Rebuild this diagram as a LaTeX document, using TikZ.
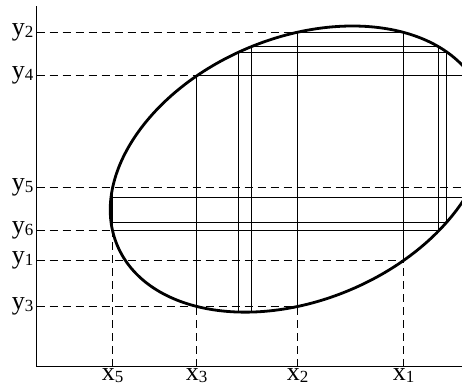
\documentclass[tikz,border=0pt]{standalone}
\usepackage{fontspec}
\setmainfont{Liberation Serif}
\newcommand{\sublab}[2]{#1\raisebox{-2pt}{\fontsize{17}{17}\selectfont #2}}
\begin{document}
\begin{tikzpicture}[x=1pt,y=-1pt,
  guide/.style={line width=1.3pt, dash pattern=on 8pt off 5pt},
  chord/.style={line width=1.3pt, line join=miter},
  curve/.style={line width=2.8pt},
  axisline/.style={line width=1.6pt},
  lab/.style={font=\fontsize{26}{26}\selectfont, inner sep=0pt}]
\useasboundingbox (0,0) rectangle (462,386);
\clip (0,0) rectangle (462,386);
% axes
\coordinate (O) at (36.5,366.5);
\coordinate (Ytop) at (36.5,6);
\coordinate (Xend) at (462,366.5);
% chord points on the ellipse
\coordinate (P1) at (403.5,260.5);
\coordinate (P2) at (403.5,32.5);
\coordinate (P3) at (297.5,32.5);
\coordinate (P4) at (297.5,306.5);
\coordinate (P5) at (196.5,306.5);
\coordinate (P6) at (196.5,75.5);
\coordinate (P7) at (470.5,75.5);
\coordinate (P8) at (470.5,187.5);
\coordinate (P9) at (112.5,187.5);
\coordinate (P10) at (112.5,230.5);
\coordinate (P11) at (438.5,230.5);
\coordinate (P12) at (438.5,46.5);
\coordinate (P13) at (251.5,46.5);
\coordinate (P14) at (251.5,311.5);
\coordinate (P15) at (238.5,311.5);
\coordinate (P16) at (238.5,52.5);
\coordinate (P17) at (446.5,52.5);
\coordinate (P18) at (446.5,222.5);
\coordinate (P19) at (111.5,222.5);
\coordinate (P20) at (111.5,197.5);
\coordinate (P21) at (465.5,197.5);
% chords
\draw[chord] (P1) -- (P2) -- (P3) -- (P4);
\draw[chord] (P5) -- (P6) -- (P7) -- (P8);
\draw[chord] (P9) -- (P10) -- (P11) -- (P12) -- (P13) -- (P14) -- (P15) -- (P16)
  -- (P17) -- (P18) -- (P19) -- (P20) -- (P21);
% dashed guides
\draw[guide] (P1 -| O) -- (P1);
\draw[guide] (P1 |- O) -- (P1);
\draw[guide] (P3 -| O) -- (P3);
\draw[guide] (P4 |- O) -- (P4);
\draw[guide] (P4 -| O) -- (P4);
\draw[guide] (P5 |- O) -- (P5);
\draw[guide] (P6 -| O) -- (P6);
\draw[guide] (P9 -| O) -- (P8);
\draw[guide] (P10 |- O) -- (P10);
\draw[guide] (P10 -| O) -- (P10);
% ellipse
\draw[curve, rotate around={22.78:(298.84,169.07)}] (298.84,169.07) ellipse [x radius=196.95, y radius=131.28];
% axes
\draw[axisline] (Ytop) -- (O) -- (Xend);
% labels
\node[lab, anchor=east] (ly2) at ([xshift=-3pt]P3 -| O) {\sublab{y}{2}};
\node[lab, anchor=east] (ly4) at ([xshift=-3pt]P6 -| O) {\sublab{y}{4}};
\node[lab, anchor=east] (ly5) at ([xshift=-3pt]P9 -| O) {\sublab{y}{5}};
\node[lab, anchor=east] (ly6) at ([xshift=-3pt]P10 -| O) {\sublab{y}{6}};
\node[lab, anchor=east] (ly1) at ([xshift=-3pt]P1 -| O) {\sublab{y}{1}};
\node[lab, anchor=east] (ly3) at ([xshift=-3pt]P4 -| O) {\sublab{y}{3}};
\node[lab, anchor=north] (lx5) at ([yshift=-2pt]P10 |- O) {\sublab{x}{5}};
\node[lab, anchor=north] (lx3) at ([yshift=-2pt]P5 |- O) {\sublab{x}{3}};
\node[lab, anchor=north] (lx2) at ([yshift=-2pt]P4 |- O) {\sublab{x}{2}};
\node[lab, anchor=north] (lx1) at ([yshift=-2pt]P1 |- O) {\sublab{x}{1}};
\end{tikzpicture}
\end{document}
